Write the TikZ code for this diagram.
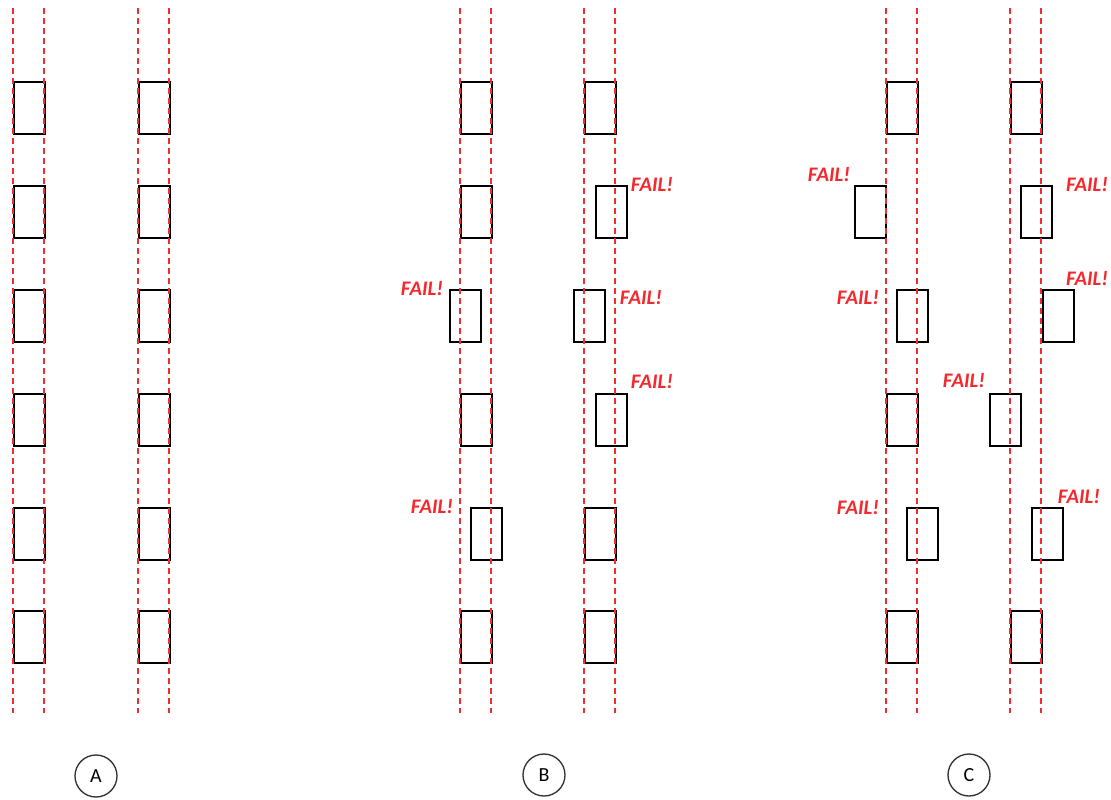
\documentclass[tikz,border=0pt]{standalone}
\usepackage{fontspec}
\setmainfont{Carlito}
\definecolor{guide}{RGB}{240,45,50}
\definecolor{failred}{RGB}{245,40,45}
\tikzset{
  box/.style={draw=black,line width=1.5pt,minimum width=23.25pt,minimum height=39pt,inner sep=0pt,anchor=north west},
  guideline/.style={draw=guide,line width=1.1pt,dash pattern=on 4.5pt off 3pt},
  fail/.style={text=failred,font=\fontsize{15.5}{15.5}\selectfont\bfseries\itshape,inner sep=0pt},
  tag/.style={draw=black!80,circle,line width=1pt,minimum size=31.5pt,inner sep=0pt,font=\fontsize{15}{15}\selectfont}
}
\begin{document}
\begin{tikzpicture}[x=0.75pt,y=-0.75pt]
\useasboundingbox (0,0) rectangle (1111,800);
% Panel A
\foreach \r/\ty in {1/81,2/185,3/289,4/393,5/507,6/610}{
  \node[box] (A\r l) at (13,\ty) {};
  \node[box] (A\r r) at (138,\ty) {};
}
% Panel B
\node[box] (B1l) at (460,81) {};   \node[box] (B1r) at (584,81) {};
\node[box] (B2l) at (460,185) {};  \node[box] (B2r) at (595,185) {};
\node[box] (B3l) at (449,289) {};  \node[box] (B3r) at (573,289) {};
\node[box] (B4l) at (460,393) {};  \node[box] (B4r) at (595,393) {};
\node[box] (B5l) at (470,507) {};  \node[box] (B5r) at (584,507) {};
\node[box] (B6l) at (460,610) {};  \node[box] (B6r) at (584,610) {};
% Panel C
\node[box] (C1l) at (886,81) {};   \node[box] (C1r) at (1010,81) {};
\node[box] (C2l) at (854,185) {};  \node[box] (C2r) at (1020,185) {};
\node[box] (C3l) at (896,289) {};  \node[box] (C3r) at (1042,289) {};
\node[box] (C4l) at (886,393) {};  \node[box] (C4r) at (989,393) {};
\node[box] (C5l) at (906,507) {};  \node[box] (C5r) at (1031,507) {};
\node[box] (C6l) at (886,610) {};  \node[box] (C6r) at (1010,610) {};
% guide lines (drawn over the boxes)
\foreach \gx in {13,44,138,169,460,491,584,615,886,917,1010,1041}{
  \draw[guideline] (\gx,8) -- (\gx,713);
}
% FAIL labels
\node[fail] (fB2r) at (652,185) {FAIL!};
\node[fail] (fB3l) at (422,289) {FAIL!};
\node[fail] (fB3r) at (641,298) {FAIL!};
\node[fail] (fB4r) at (652,382) {FAIL!};
\node[fail] (fB5l) at (432,507) {FAIL!};
\node[fail] (fC2l) at (829,175) {FAIL!};
\node[fail] (fC2r) at (1087,185) {FAIL!};
\node[fail] (fC3l) at (858,298) {FAIL!};
\node[fail] (fC3r) at (1087,279) {FAIL!};
\node[fail] (fC4r) at (964,381) {FAIL!};
\node[fail] (fC5l) at (858,508) {FAIL!};
\node[fail] (fC5r) at (1079,497) {FAIL!};
% panel tags
\node[tag] (tagA) at (96,776) {A};
\node[tag] (tagB) at (544,775) {B};
\node[tag] (tagC) at (969,775) {C};
\end{tikzpicture}
\end{document}
